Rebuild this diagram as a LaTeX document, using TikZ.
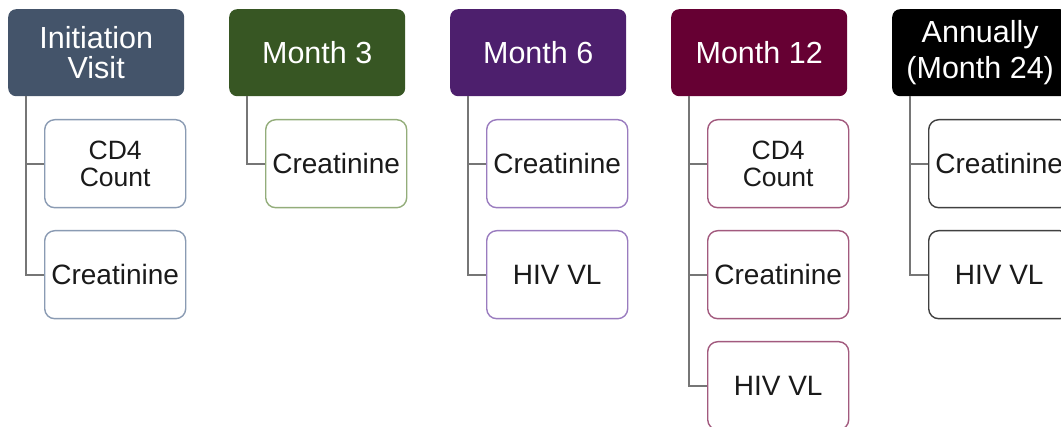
\documentclass[tikz,border=0pt]{standalone}
\usepackage{fontspec}
\setmainfont{Liberation Sans}
\usetikzlibrary{calc}
\definecolor{hA}{HTML}{44546A}
\definecolor{hB}{HTML}{375623}
\definecolor{hC}{HTML}{4D1F6D}
\definecolor{hD}{HTML}{660033}
\definecolor{hE}{HTML}{000000}
\definecolor{bA}{HTML}{8A9BB3}
\definecolor{bB}{HTML}{93AD7A}
\definecolor{bC}{HTML}{9A7CBF}
\definecolor{bD}{HTML}{A25A7E}
\definecolor{bE}{HTML}{404040}
\definecolor{connc}{HTML}{767676}
\definecolor{txt}{HTML}{1A1A1A}
\begin{document}
\begin{tikzpicture}[x=1pt,y=-1pt,
  hdr/.style={rounded corners=8pt, minimum width=176pt, minimum height=87pt,
    anchor=north west, inner sep=0pt, text=white, align=center,
    font=\fontsize{30.5}{29.5}\selectfont},
  leaf/.style={draw, line width=1.4pt, fill=white, rounded corners=10pt,
    minimum width=141pt, minimum height=88pt, anchor=north west, inner sep=0pt,
    text=txt, align=center, font=\fontsize{28}{28}\selectfont},
  twoline/.style={font=\fontsize{26.5}{26.5}\selectfont},
  conn/.style={draw=connc, line width=2pt}]
\path[use as bounding box] (0,0) rectangle (1061,427);
\clip (0,0) rectangle (1061,427);

% headers
\node[hdr, fill=hA] (h1) at (8,9) {Initiation\\Visit};
\node[hdr, fill=hB] (h2) at (229,9) {Month 3};
\node[hdr, fill=hC] (h3) at (450,9) {Month 6};
\node[hdr, fill=hD] (h4) at (671,9) {Month 12};
\node[hdr, fill=hE, font=\fontsize{30.5}{36}\selectfont] (h5) at (892,9) {Annually\\(Month 24)};

% connector starts
\coordinate (s1) at ($(h1.south west)+(18pt,0)$);
\coordinate (s2) at ($(h2.south west)+(18pt,0)$);
\coordinate (s3) at ($(h3.south west)+(18pt,0)$);
\coordinate (s4) at ($(h4.south west)+(18pt,0)$);
\coordinate (s5) at ($(h5.south west)+(18pt,0)$);

% leaves
\node[leaf, draw=bA, twoline] (c11) at (44,119) {CD4\\Count};
\node[leaf, draw=bA] (c12) at (44,230) {Creatinine};

\node[leaf, draw=bB] (c21) at (265,119) {Creatinine};

\node[leaf, draw=bC] (c31) at (486,119) {Creatinine};
\node[leaf, draw=bC] (c32) at (486,230) {HIV VL};

\node[leaf, draw=bD, twoline] (c41) at (707,119) {CD4\\Count};
\node[leaf, draw=bD] (c42) at (707,230) {Creatinine};
\node[leaf, draw=bD] (c43) at (707,341) {HIV VL};

\node[leaf, draw=bE] (c51) at (928,119) {Creatinine};
\node[leaf, draw=bE] (c52) at (928,230) {HIV VL};

% connectors
\draw[conn] (s1) |- (c11.west);
\draw[conn] (s1) |- (c12.west);
\draw[conn] (s2) |- (c21.west);
\draw[conn] (s3) |- (c31.west);
\draw[conn] (s3) |- (c32.west);
\draw[conn] (s4) |- (c41.west);
\draw[conn] (s4) |- (c42.west);
\draw[conn] (s4) |- (c43.west);
\draw[conn] (s5) |- (c51.west);
\draw[conn] (s5) |- (c52.west);
\end{tikzpicture}
\end{document}
